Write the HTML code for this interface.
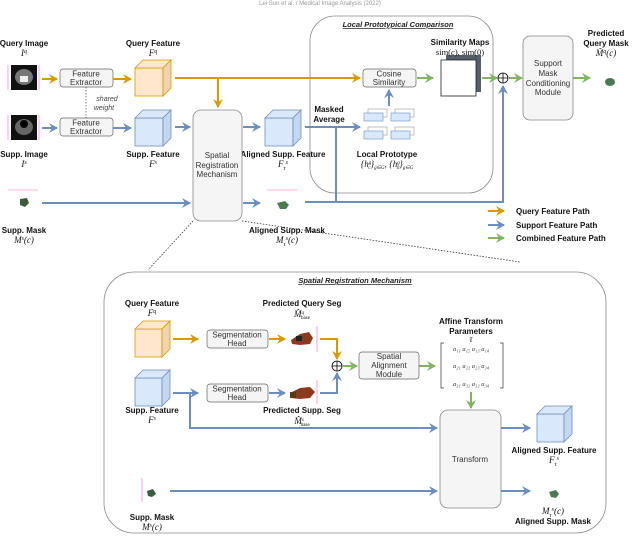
<!DOCTYPE html>
<html><head><meta charset="utf-8"><style>
html,body{margin:0;padding:0;background:#fff}
svg{display:block;font-family:"Liberation Sans",sans-serif}
.b{font-weight:bold;font-size:8px;fill:#111}
.m{font-family:"Liberation Serif",serif;font-style:italic;font-size:9px;fill:#111}
.t{font-size:8px;fill:#333}
</style></head><body>
<svg width="640" height="536" viewBox="0 0 640 536" xmlns="http://www.w3.org/2000/svg">
<defs>
<marker id="ao" markerUnits="userSpaceOnUse" markerWidth="10" markerHeight="10" refX="8" refY="5" orient="auto"><path d="M0,0 L9,5 L0,10 L3,5 z" fill="#d79b00"/></marker>
<marker id="ab" markerUnits="userSpaceOnUse" markerWidth="10" markerHeight="10" refX="8" refY="5" orient="auto"><path d="M0,0 L9,5 L0,10 L3,5 z" fill="#6c8ebf"/></marker>
<marker id="ag" markerUnits="userSpaceOnUse" markerWidth="10" markerHeight="10" refX="8" refY="5" orient="auto"><path d="M0,0 L9,5 L0,10 L3,5 z" fill="#82b366"/></marker>
</defs>
<text x="320" y="5" text-anchor="middle" font-size="6" fill="#999">Lei Sun et al. / Medical Image Analysis (2022)</text>

<!-- LPC box -->
<rect x="310" y="16" width="183" height="177" rx="25" fill="#fff" stroke="#888" stroke-width="0.8"/>
<text x="398" y="27" text-anchor="middle" font-size="7.5" font-style="italic" font-weight="bold" fill="#222" text-decoration="underline">Local Prototypical Comparison</text>

<!-- lower box -->
<rect x="104" y="272" width="502" height="261" rx="30" fill="#fff" stroke="#888" stroke-width="0.8"/>
<text x="355" y="283" text-anchor="middle" font-size="7.5" font-style="italic" font-weight="bold" fill="#222" text-decoration="underline">Spatial Registration Mechanism</text>

<!-- dotted -->
<line x1="193" y1="221" x2="148" y2="270" stroke="#333" stroke-width="0.8" stroke-dasharray="1.5,1.5"/>
<line x1="242" y1="221" x2="520" y2="262" stroke="#333" stroke-width="0.8" stroke-dasharray="1.5,1.5"/>

<!-- images -->
<rect x="11" y="65" width="26" height="25" fill="#111"/><ellipse cx="24" cy="77" rx="9" ry="8" fill="#777"/><rect x="20" y="76" width="8" height="6" fill="#eee"/>
<rect x="11" y="115" width="26" height="25" fill="#111"/><ellipse cx="24" cy="127" rx="9" ry="8" fill="#666"/><circle cx="24" cy="124" r="4" fill="#000"/>
<g stroke="#f6c" stroke-width="0.6"><line x1="8" y1="65" x2="8" y2="90"/><line x1="39" y1="65" x2="39" y2="90"/><line x1="8" y1="115" x2="8" y2="140"/><line x1="39" y1="115" x2="39" y2="140"/><line x1="8" y1="190" x2="38" y2="190"/><line x1="267" y1="190" x2="297" y2="190"/><line x1="142" y1="478" x2="142" y2="502"/><line x1="317" y1="326" x2="317" y2="352"/><line x1="317" y1="380" x2="317" y2="404"/></g>

<text x="24" y="46" text-anchor="middle" class="b">Query Image</text><text x="24" y="56" text-anchor="middle" class="m">I<tspan dy="-3" font-size="6">q</tspan></text>
<text x="24" y="157" text-anchor="middle" class="b">Supp. Image</text><text x="24" y="167" text-anchor="middle" class="m">I<tspan dy="-3" font-size="6">s</tspan></text>
<text x="153" y="46" text-anchor="middle" class="b">Query  Feature</text><text x="153" y="56" text-anchor="middle" class="m">F<tspan dy="-3" font-size="6">q</tspan></text>
<text x="153" y="157" text-anchor="middle" class="b">Supp.  Feature</text><text x="153" y="167" text-anchor="middle" class="m">F<tspan dy="-3" font-size="6">s</tspan></text>
<text x="283" y="157" text-anchor="middle" class="b">Aligned Supp.  Feature</text><text x="283" y="167" text-anchor="middle" class="m">F<tspan dy="3" font-size="6">τ</tspan><tspan dy="-6" font-size="6">s</tspan></text>
<text x="24" y="233" text-anchor="middle" class="b">Supp. Mask</text><text x="24" y="243" text-anchor="middle" class="m">M<tspan dy="-3" font-size="6">s</tspan><tspan dy="3">(c)</tspan></text>
<text x="287" y="233" text-anchor="middle" class="b">Aligned Supp.  Mask</text><text x="287" y="243" text-anchor="middle" class="m">M<tspan dy="3" font-size="6">τ</tspan><tspan dy="-6" font-size="6">s</tspan><tspan dy="3">(c)</tspan></text>

<!-- feature extractors -->
<rect x="60" y="69" width="53" height="18" rx="3" fill="#f5f5f5" stroke="#666" stroke-width="0.7"/>
<text x="86" y="76.5" text-anchor="middle" class="t">Feature</text><text x="86" y="85" text-anchor="middle" class="t">Extractor</text>
<rect x="60" y="118" width="53" height="18" rx="3" fill="#f5f5f5" stroke="#666" stroke-width="0.7"/>
<text x="86" y="125.5" text-anchor="middle" class="t">Feature</text><text x="86" y="134" text-anchor="middle" class="t">Extractor</text>
<line x1="86" y1="87" x2="86" y2="118" stroke="#444" stroke-width="0.7" stroke-dasharray="1.5,1.5"/>
<text x="107" y="101" text-anchor="middle" font-size="7" font-style="italic" fill="#444">shared</text><text x="104" y="110" text-anchor="middle" font-size="7" font-style="italic" fill="#444">weight</text>

<!-- cubes -->
<g stroke-width="0.8">
<g fill="#ffe6cc" stroke="#d79b00"><rect x="135" y="68" width="28" height="28"/><path d="M135,68 L143,60 L171,60 L163,68 z"/><path d="M163,68 L171,60 L171,88 L163,96 z" fill="#f0d3b0"/></g>
<g fill="#dae8fc" stroke="#6c8ebf"><rect x="135" y="118" width="28" height="28"/><path d="M135,118 L143,110 L171,110 L163,118 z"/><path d="M163,118 L171,110 L171,138 L163,146 z" fill="#c5d6ef"/></g>
<g fill="#dae8fc" stroke="#6c8ebf"><rect x="265" y="118" width="28" height="28"/><path d="M265,118 L273,110 L301,110 L293,118 z"/><path d="M293,118 L301,110 L301,138 L293,146 z" fill="#c5d6ef"/></g>
<g fill="#ffe6cc" stroke="#d79b00"><rect x="135" y="329" width="27" height="28"/><path d="M135,329 L143,321 L170,321 L162,329 z"/><path d="M162,329 L170,321 L170,349 L162,357 z" fill="#f0d3b0"/></g>
<g fill="#dae8fc" stroke="#6c8ebf"><rect x="135" y="378" width="27" height="28"/><path d="M135,378 L143,370 L170,370 L162,378 z"/><path d="M162,378 L170,370 L170,398 L162,406 z" fill="#c5d6ef"/></g>
<g fill="#dae8fc" stroke="#6c8ebf"><rect x="537" y="414" width="27" height="28"/><path d="M537,414 L545,406 L572,406 L564,414 z"/><path d="M564,414 L572,406 L572,434 L564,442 z" fill="#c5d6ef"/></g>
</g>

<!-- SRM box -->
<rect x="193" y="110" width="49" height="111" rx="8" fill="#f5f5f5" stroke="#888" stroke-width="0.8"/>
<text x="217" y="158" text-anchor="middle" class="t">Spatial</text><text x="217" y="168" text-anchor="middle" class="t">Registration</text><text x="217" y="177" text-anchor="middle" class="t">Mechanism</text>

<!-- top arrows -->
<g fill="none" stroke-width="2">
<line x1="42" y1="79" x2="57" y2="79" stroke="#d79b00" marker-end="url(#ao)"/>
<line x1="113" y1="79" x2="131" y2="79" stroke="#d79b00" marker-end="url(#ao)"/>
<line x1="175" y1="78" x2="360" y2="78" stroke="#d79b00" marker-end="url(#ao)"/>
<line x1="218" y1="78" x2="218" y2="107" stroke="#d79b00" marker-end="url(#ao)"/>
<line x1="42" y1="128" x2="57" y2="128" stroke="#6c8ebf" marker-end="url(#ab)"/>
<line x1="113" y1="128" x2="131" y2="128" stroke="#6c8ebf" marker-end="url(#ab)"/>
<line x1="175" y1="127" x2="190" y2="127" stroke="#6c8ebf" marker-end="url(#ab)"/>
<line x1="243" y1="127" x2="260" y2="127" stroke="#6c8ebf" marker-end="url(#ab)"/>
<line x1="305" y1="127" x2="360" y2="127" stroke="#6c8ebf" marker-end="url(#ab)"/>
<line x1="42" y1="203" x2="190" y2="203" stroke="#6c8ebf" marker-end="url(#ab)"/>
<line x1="243" y1="203" x2="260" y2="203" stroke="#6c8ebf" marker-end="url(#ab)"/>
<polyline points="305,202 503,202 503,86" stroke="#6c8ebf" marker-end="url(#ab)"/>
<line x1="336" y1="127" x2="336" y2="202" stroke="#6c8ebf"/>
<line x1="389" y1="106" x2="389" y2="90" stroke="#6c8ebf" marker-end="url(#ab)"/>
<line x1="417" y1="78" x2="433" y2="78" stroke="#82b366" marker-end="url(#ag)"/>
<line x1="482" y1="78" x2="497" y2="78" stroke="#82b366" marker-end="url(#ag)"/>
<line x1="509" y1="78" x2="522" y2="78" stroke="#82b366" marker-end="url(#ag)"/>
<line x1="573" y1="78" x2="590" y2="78" stroke="#82b366" marker-end="url(#ag)"/>
</g>
<circle cx="503" cy="78" r="5" fill="#fff" stroke="#000" stroke-width="0.8"/><path d="M498,78 H508 M503,73 V83" stroke="#000" stroke-width="0.8"/>

<text x="329" y="112" text-anchor="middle" class="b">Masked</text><text x="329" y="122" text-anchor="middle" class="b">Average</text>

<rect x="363" y="69" width="53" height="18" rx="3" fill="#f5f5f5" stroke="#666" stroke-width="0.7"/>
<text x="389" y="76.5" text-anchor="middle" class="t">Cosine</text><text x="389" y="85" text-anchor="middle" class="t">Similarity</text>

<!-- prototypes -->
<g stroke-width="0.6">
<rect x="368" y="109" width="19" height="8" fill="#fff" stroke="#999"/><rect x="364" y="113" width="19" height="8" fill="#dae8fc" stroke="#6c8ebf"/>
<rect x="395" y="109" width="19" height="8" fill="#fff" stroke="#999"/><rect x="391" y="113" width="19" height="8" fill="#dae8fc" stroke="#6c8ebf"/>
<rect x="368" y="127" width="19" height="8" fill="#fff" stroke="#999"/><rect x="364" y="131" width="19" height="8" fill="#dae8fc" stroke="#6c8ebf"/>
<rect x="395" y="127" width="19" height="8" fill="#fff" stroke="#999"/><rect x="391" y="131" width="19" height="8" fill="#dae8fc" stroke="#6c8ebf"/>
</g>
<text x="387" y="157" text-anchor="middle" class="b">Local Prototype</text>
<text x="387" y="167" text-anchor="middle" class="m" font-size="8">{h<tspan dy="-3" font-size="5">g</tspan><tspan dx="-3" dy="5" font-size="5">c</tspan><tspan dy="-2">}</tspan><tspan dy="2" font-size="5">g∈G</tspan><tspan dy="-2">, {h</tspan><tspan dy="-3" font-size="5">g</tspan><tspan dx="-3" dy="5" font-size="5">0</tspan><tspan dy="-2">}</tspan><tspan dy="2" font-size="5">g∈G</tspan></text>

<!-- sim maps -->
<rect x="446" y="55" width="35" height="37" fill="#555f6a"/>
<rect x="441" y="60" width="35" height="36" fill="#fff" stroke="#222" stroke-width="0.8"/>
<text x="460" y="45" text-anchor="middle" class="b">Similarity Maps</text>
<text x="460" y="55" text-anchor="middle" font-family="Liberation Serif,serif" font-size="8.5" fill="#111">sim(<tspan font-style="italic">c</tspan>), sim(0)</text>

<!-- SMCM -->
<rect x="523" y="36" width="50" height="84" rx="7" fill="#f5f5f5" stroke="#888" stroke-width="0.8"/>
<text x="548" y="66" text-anchor="middle" class="t">Support</text><text x="548" y="76" text-anchor="middle" class="t">Mask</text><text x="548" y="86" text-anchor="middle" class="t">Conditioning</text><text x="548" y="95" text-anchor="middle" class="t">Module</text>
<text x="606" y="36" text-anchor="middle" class="b">Predicted</text><text x="606" y="46" text-anchor="middle" class="b">Query  Mask</text>
<text x="606" y="56" text-anchor="middle" class="m">M̃<tspan dy="-3" font-size="6">q</tspan><tspan dy="3">(c)</tspan></text>
<ellipse cx="610" cy="82" rx="5" ry="4" fill="#4b7a52"/>

<!-- masks -->
<path d="M20,199 L27,198 L29,203 L25,207 L20,205 z" fill="#3c5a3c"/>
<path d="M277,203 L285,201 L289,205 L286,209 L280,209 z" fill="#4b7a52"/>
<path d="M147,491 L153,489 L156,494 L152,497 L148,496 z" fill="#3c5a3c"/>
<path d="M549,492 L556,490 L559,494 L556,498 L551,497 z" fill="#4b7a52"/>

<!-- legend -->
<g stroke-width="2"><line x1="488" y1="211" x2="504" y2="211" stroke="#d79b00" marker-end="url(#ao)"/><line x1="488" y1="225" x2="504" y2="225" stroke="#6c8ebf" marker-end="url(#ab)"/><line x1="488" y1="238" x2="504" y2="238" stroke="#82b366" marker-end="url(#ag)"/></g>
<text x="516" y="214" class="b" font-size="7.5">Query Feature Path</text><text x="516" y="228" class="b" font-size="7.5">Support Feature Path</text><text x="516" y="241" class="b" font-size="7.5">Combined Feature Path</text>

<!-- lower section -->
<text x="152" y="306" text-anchor="middle" class="b">Query  Feature</text><text x="152" y="316" text-anchor="middle" class="m">F<tspan dy="-3" font-size="6">q</tspan></text>
<text x="152" y="413" text-anchor="middle" class="b">Supp.  Feature</text><text x="152" y="423" text-anchor="middle" class="m">F<tspan dy="-3" font-size="6">s</tspan></text>
<text x="302" y="306" text-anchor="middle" class="b">Predicted Query  Seg</text><text x="302" y="317" text-anchor="middle" class="m">M̂<tspan dy="-3" font-size="5">q</tspan><tspan dx="-3" dy="5" font-size="5" font-style="normal">base</tspan></text>
<text x="302" y="413" text-anchor="middle" class="b">Predicted Supp.  Seg</text><text x="302" y="424" text-anchor="middle" class="m">M̂<tspan dy="-3" font-size="5">s</tspan><tspan dx="-3" dy="5" font-size="5" font-style="normal">base</tspan></text>

<rect x="207" y="330" width="61" height="18" rx="3" fill="#f5f5f5" stroke="#666" stroke-width="0.7"/>
<text x="237" y="337.5" text-anchor="middle" class="t">Segmentation</text><text x="237" y="346" text-anchor="middle" class="t">Head</text>
<rect x="207" y="384" width="61" height="18" rx="3" fill="#f5f5f5" stroke="#666" stroke-width="0.7"/>
<text x="237" y="391.5" text-anchor="middle" class="t">Segmentation</text><text x="237" y="400" text-anchor="middle" class="t">Head</text>

<path d="M291,340 L300,334 L309,332 L313,338 L310,344 L300,345 L292,344 z" fill="#8a3a20"/><rect x="296" y="336" width="6" height="5" fill="#222"/>
<path d="M290,393 L300,388 L310,387 L315,392 L310,398 L300,399 L291,398 z" fill="#8a3a20"/><rect x="290" y="392" width="6" height="6" fill="#5a3a10"/>

<g fill="none" stroke-width="2">
<line x1="173" y1="339" x2="198" y2="339" stroke="#d79b00" marker-end="url(#ao)"/>
<line x1="269" y1="339" x2="285" y2="339" stroke="#d79b00" marker-end="url(#ao)"/>
<polyline points="320,339 337,339 337,359" stroke="#d79b00" marker-end="url(#ao)"/>
<line x1="173" y1="393" x2="198" y2="393" stroke="#6c8ebf" marker-end="url(#ab)"/>
<line x1="269" y1="393" x2="285" y2="393" stroke="#6c8ebf" marker-end="url(#ab)"/>
<polyline points="320,393 337,393 337,373" stroke="#6c8ebf" marker-end="url(#ab)"/>
<polyline points="190,393 190,428 437,428" stroke="#6c8ebf" marker-end="url(#ab)"/>
<line x1="170" y1="491" x2="437" y2="491" stroke="#6c8ebf" marker-end="url(#ab)"/>
<line x1="501" y1="428" x2="530" y2="428" stroke="#6c8ebf" marker-end="url(#ab)"/>
<line x1="501" y1="491" x2="530" y2="491" stroke="#6c8ebf" marker-end="url(#ab)"/>
<line x1="343" y1="366" x2="357" y2="366" stroke="#82b366" marker-end="url(#ag)"/>
<line x1="419" y1="366" x2="435" y2="366" stroke="#82b366" marker-end="url(#ag)"/>
<line x1="471" y1="392" x2="471" y2="408" stroke="#82b366" marker-end="url(#ag)"/>
</g>
<circle cx="337" cy="366" r="5" fill="#fff" stroke="#000" stroke-width="0.8"/><path d="M332,366 H342 M337,361 V371" stroke="#000" stroke-width="0.8"/>

<rect x="359" y="352" width="60" height="27" rx="3" fill="#f5f5f5" stroke="#666" stroke-width="0.7"/>
<text x="389" y="359" text-anchor="middle" class="t">Spatial</text><text x="389" y="368" text-anchor="middle" class="t">Alignment</text><text x="389" y="377" text-anchor="middle" class="t">Module</text>

<text x="471" y="324" text-anchor="middle" class="b">Affine Transform</text><text x="471" y="334" text-anchor="middle" class="b">Parameters</text>
<text x="471" y="342" text-anchor="middle" class="m" font-size="7">τ</text>
<path d="M444,343 h-3 v45 h3 M500,343 h3 v45 h-3" fill="none" stroke="#333" stroke-width="0.7"/>
<g font-family="Liberation Serif,serif" font-style="italic" font-size="6.5" fill="#333" text-anchor="middle">
<text x="471" y="351">a₁₁ a₁₂ a₁₃ a₁₄</text><text x="471" y="368">a₂₁ a₂₂ a₂₃ a₂₄</text><text x="471" y="386">a₃₁ a₃₂ a₃₃ a₃₄</text></g>

<rect x="440" y="410" width="61" height="98" rx="8" fill="#f5f5f5" stroke="#888" stroke-width="0.8"/>
<text x="470" y="462" text-anchor="middle" class="t">Transform</text>

<text x="554" y="453" text-anchor="middle" class="b">Aligned Supp.  Feature</text><text x="554" y="463" text-anchor="middle" class="m">F<tspan dy="3" font-size="6">τ</tspan><tspan dy="-6" font-size="6">s</tspan></text>
<text x="553" y="514" text-anchor="middle" class="m">M<tspan dy="3" font-size="6">τ</tspan><tspan dy="-6" font-size="6">s</tspan><tspan dy="3">(c)</tspan></text>
<text x="553" y="524" text-anchor="middle" class="b">Aligned Supp.  Mask</text>
<text x="152" y="520" text-anchor="middle" class="b">Supp. Mask</text><text x="152" y="530" text-anchor="middle" class="m">M<tspan dy="-3" font-size="6">s</tspan><tspan dy="3">(c)</tspan></text>
</svg>
</body></html>
